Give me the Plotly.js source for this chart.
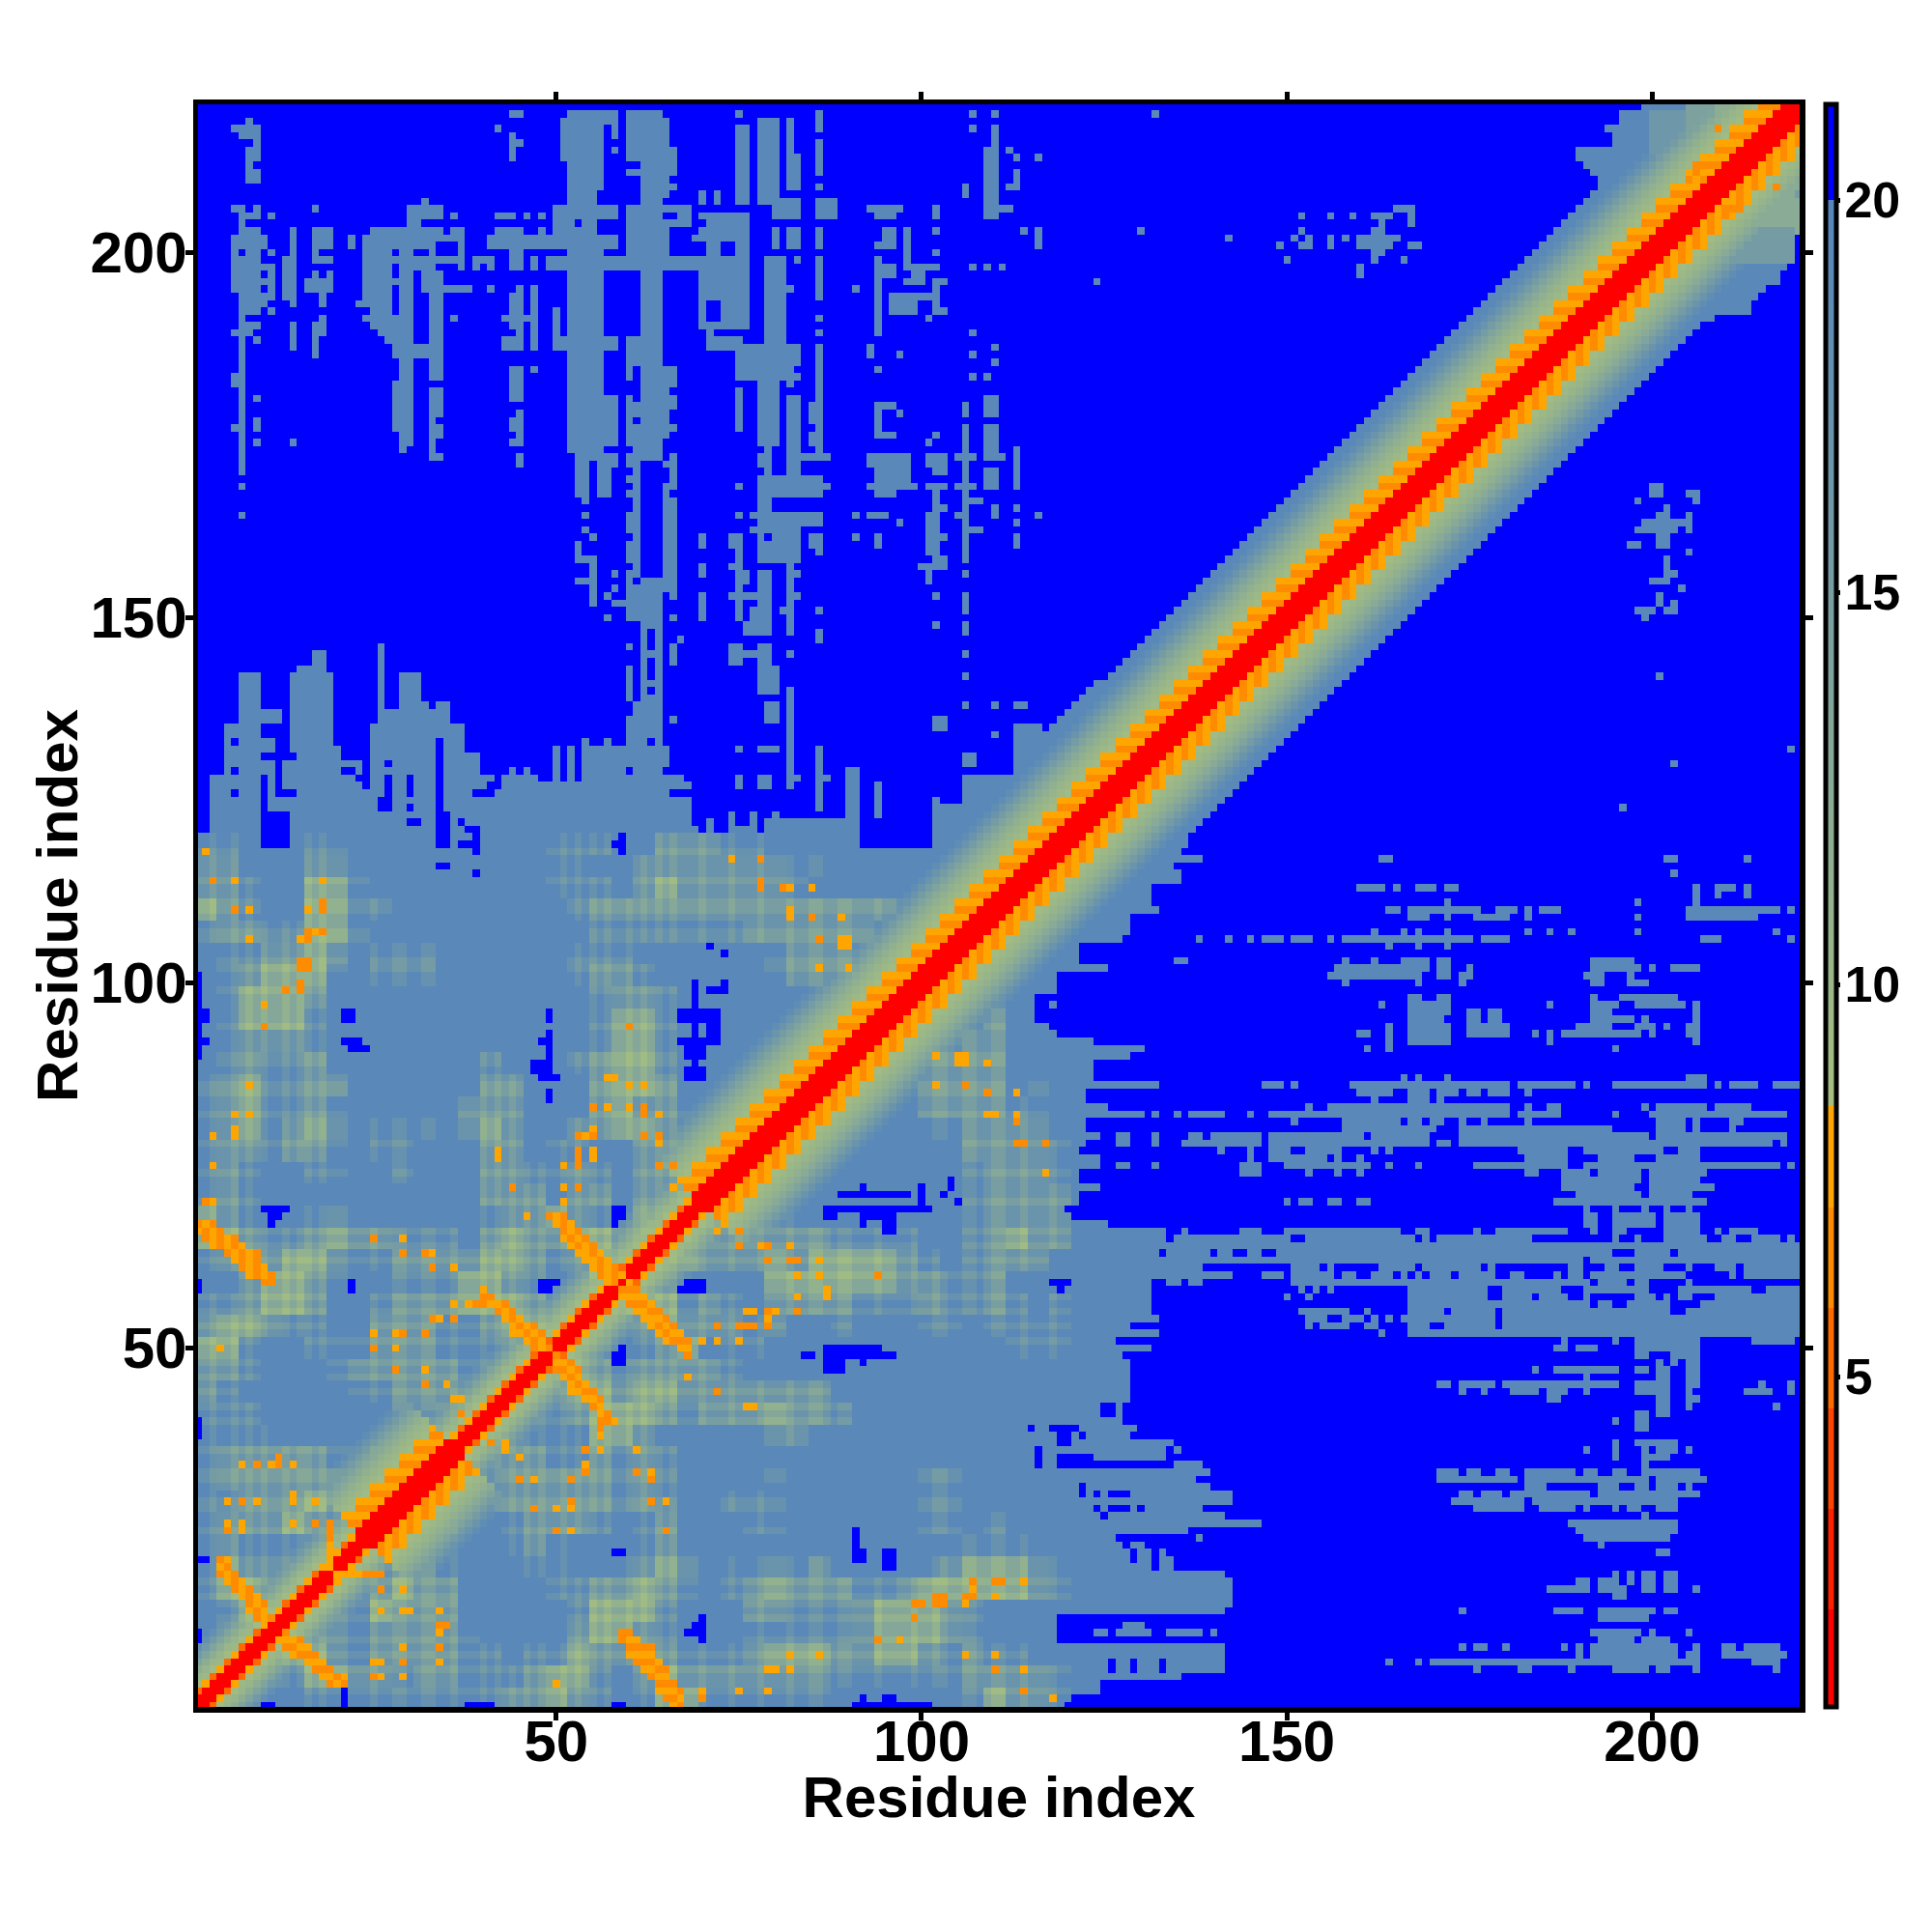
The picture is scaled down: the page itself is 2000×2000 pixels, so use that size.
<!DOCTYPE html>
<html><head><meta charset="utf-8">
<script src="https://cdn.plot.ly/plotly-3.0.1.min.js"></script>
<style>html,body{margin:0;padding:0;background:#fff}#chart{width:2000px;height:2000px}</style>
</head><body><div id="chart"></div>
<script>
// Residue-residue distance map.
const tickValues=[50,100,150,200];
const colourTicks=[5,10,15,20];
const BLUE=21, STEEL=19.5;
const gridLevels=[19.5,17.5,15,11.3,9.8];

// Right-most cell of the dense steel area, for rows 1..120
const rowRight=[119,120,124,124,135,141,141,141,141,118,
118,118,118,141,142,142,142,142,141,134,
134,134,130,126,136,146,141,138,142,142,
139,137,139,138,134,135,134,131,129,127,
127,127,128,128,128,128,128,128,127,131,
126,132,128,132,131,131,131,131,131,129,
129,129,129,129,129,129,125,120,119,121,
121,124,121,121,124,124,121,122,124,122,
122,130,125,122,122,132,123,123,123,128,
130,123,118,117,115,115,118,116,118,118,
118,125,121,121,120,127,128,128,128,132,
131,131,131,135,135,134,138,135,136,136];
// Top-most cell of the dense steel area, for columns 1..125
const colTop=[120,120,128,128,135,135,142,142,142,139,139,139,135,142,143,143,145,145,142,134,133,133,133,132,135,146,137,137,142,142,142,138,137,138,138,135,135,131,131,128,128,127,128,129,128,129,128,127,127,132,127,132,127,133,132,132,133,132,132,133,133,132,133,133,132,129,128,127,121,120,122,120,120,123,121,121,123,120,122,123,122,122,122,122,122,122,122,122,122,122,122,118,118,118,118,118,118,118,118,118,118,124,124,124,124,128,128,128,128,128,128,128,135,135,135,135,134,135,136,137,138,139,140,141,141];

// Khaki texture of the lower-left block: rows of three-cell bins, y=1-3 first, x<=y (mirrored)
const khakiRows=[
"3","23","123","0233","01333","133223","1322223","12111133",
"122232123","1122232123","12222221223","122222112223","1111000000122","11100000011223",
"210000011222223","2210001222221113","33100111222111223","233211002221123332",
"1123320012223332201","00233210011133210133","123233211222233212333","3321123221110232233233",
"32100121000001223210331","12100000000002220220221","12100110010002211210221","12212210110002201100221",
"123123201110232002233210","12311210000022200023221","1231122000000220002332","0121120000000100012331",
"0122210000000000001331","0133310000000000001331","0133320000000000001221",
"0123331011100000012210000012222","0112232011100000011100000012221",
"1221133100000000001111111222222","321003311000000001222222222222221","2210033100000000111023222221",
"2200022000000000110022222221100000000000","1100011000000000111002221100000000000000"
];
// Residues that sit closer than their neighbours: they give the plaid texture
const closeResidues=[3,6,8,10,13,15,16,18,25,28,29,32,33,36,40,42,44,46,48,51,53,55,57,60,62,64,66,70,74,78,82,85,86,89,90,94,99,102,103,106,107,110,111,114,118];
const closeShift=-1, farShift=1;
// Strands of contacts: [y, first x, tones]; mirrored across the diagonal
const toneValues={a:7.7,b:6.5,c:5.3};
const strands=[
[67,1,"bab"],[66,1,"abab"],[65,2,"babab"],[64,3,"ababa"],[63,5,"babab"],[62,6,"abab"],[61,7,"baba"],[60,8,"abab"],[59,10,"bb"],
[58,40,"a"],[57,40,"bb"],[56,38,"abbaab"],[55,42,"bab"],[54,43,"aba"],[53,44,"abab"],[52,44,"aabab"],[51,46,"aba"],[50,47,"bab"],
[68,49,"bab"],[67,50,"aba"],[66,51,"bab"],[65,51,"abab"],[64,52,"abab"],[63,53,"aaba"],[62,54,"aaba"],[61,55,"abab"],[60,56,"baba"],[59,57,"ab"],
[21,4,"ba"],[20,4,"ab"],[19,4,"bab"],[18,5,"aba"],[17,6,"bab"],[16,7,"aba"],[15,8,"bab"],[14,8,"aba"],[13,9,"bab"]
];
// Isolated contacts: [x, y, tone]; mirrored
const contacts=[
[2,118,"a"],[3,114,"b"],[6,114,"a"],[6,110,"b"],[8,110,"a"],[18,114,"a"],[18,110,"b"],[18,111,"b"],[16,110,"a"],[16,106,"b"],[16,107,"b"],[15,106,"a"],[18,107,"b"],[17,107,"a"],[8,106,"a"],[15,102,"b"],[16,102,"b"],[15,103,"b"],[16,103,"b"],[15,99,"b"],[15,100,"b"],[13,99,"b"],[10,97,"a"],[10,94,"b"],[8,86,"a"],[6,82,"a"],[8,82,"a"],[6,79,"a"],[6,80,"a"],[3,79,"a"],[74,117,"a"],[78,117,"b"],[78,113,"b"],[78,114,"b"],[81,113,"b"],[82,113,"a"],[85,113,"a"],[60,94,"b"],[57,87,"a"],[58,87,"a"],[60,86,"a"],[62,86,"a"],[55,83,"b"],[57,83,"a"],[60,83,"a"],[62,82,"b"],[62,83,"b"],[64,82,"a"],[53,79,"b"],[54,79,"a"],[55,79,"b"],[55,80,"a"],[62,79,"b"],[64,79,"b"],[64,78,"a"],[53,77,"b"],[55,77,"a"],[42,77,"a"],[82,110,"a"],[82,109,"a"],[85,109,"b"],[89,109,"a"],[86,106,"b"],[89,105,"a"],[90,105,"a"],[89,106,"a"],[90,106,"a"],[86,102,"a"],[90,102,"a"],[3,75,"a"],[42,76,"a"],[44,72,"b"],[51,75,"a"],[53,75,"b"],[53,76,"b"],[55,76,"a"],[51,72,"a"],[53,72,"b"],[51,70,"a"],[46,68,"a"],[64,75,"b"],[66,75,"b"],[66,72,"a"],[2,70,"b"],[3,70,"a"],[25,65,"b"],[29,65,"a"],[29,63,"b"],[32,63,"b"],[33,63,"a"],[33,61,"b"],[36,61,"a"],[36,56,"a"],[33,54,"b"],[34,54,"a"],[36,54,"b"],[25,52,"a"],[28,52,"a"],[29,52,"b"],[32,52,"b"],[25,50,"b"],[28,50,"a"],[4,50,"a"],[28,47,"b"],[32,47,"a"],[32,45,"b"],[35,45,"a"],[36,43,"a"],[37,43,"a"],[37,41,"b"],[7,34,"a"],[9,34,"b"],[11,34,"a"],[12,34,"b"],[12,35,"b"],[14,34,"a"],[14,29,"a"],[14,30,"a"],[5,29,"a"],[7,29,"b"],[9,29,"a"],[17,29,"a"],[5,26,"a"],[5,25,"b"],[7,25,"a"],[7,26,"a"],[14,26,"a"],[17,26,"b"],[19,24,"b"],[19,25,"b"],[19,26,"b"],[19,20,"a"],[19,21,"a"],[19,22,"a"],[19,23,"a"]
];
// Diagonal band: value by distance from the diagonal, two alternating phases
const helixSpans=[[24,36],[70,220]];
const wideA=[1.5,1.5,1.5,6.4,7.7,6.4,8.2,9.8,10.4,11.5,12.7,14,15.5,17,18.5,19.5,19.5];
const wideB=[1.5,1.5,1.5,7.7,6.4,7.7,9.2,9.8,10.4,11.5,12.7,14,15.5,17,18.5,19.5,19.5];
const narrowA=[1.5,1.5,5.5,9.3,10.3,12,14,16,18];
const narrowB=[1.5,1.5,7.7,9.8,10.6,12,14,16,18];

// Blue cells inside the steel area: [x0,x1,y0,y1]
const blueHoles=[
[10,12,138,139],[10,13,134,135],[12,13,132,133],[10,14,131,131],[12,12,126,130],[10,10,119,128],[10,13,119,123],[13,14,126,126],[6,6,133,133],[6,6,129,129],[6,6,126,126],
[20,23,133,134],[21,23,131,132],[24,24,127,134],[21,22,129,129],[23,23,128,128],[34,34,124,133],[34,35,119,123],[27,27,130,130],[27,27,126,128],[30,30,126,128],[26,27,124,125],[30,30,124,124],[30,31,122,122],[37,37,122,122],[38,39,121,121],[39,39,118,120],[37,38,119,119],[34,35,116,116],[39,39,115,115],[39,41,126,126],[41,42,127,127],
[59,59,118,120],[58,58,119,119],[60,60,129,129],[65,67,129,129],[66,68,126,126],[1,1,90,101],[1,2,95,96],[1,2,92,92],[21,22,95,96],[21,23,92,92],[22,24,91,91],
[49,49,95,96],[49,49,90,93],[48,48,92,92],[47,49,88,89],[48,50,87,87],[49,49,84,85],[69,69,87,100],[67,72,95,96],[71,73,99,99],[73,73,100,100],[71,72,92,95],[67,72,92,92],[68,70,90,91],[68,70,87,88],[71,71,105,105],[73,73,104,104],
[10,13,69,69],[11,12,68,68],[11,11,67,67],[1,1,58,59],[22,22,58,59],[48,50,58,59],[49,50,57,58],[58,59,67,69],[67,70,58,59],[58,59,48,50],[57,57,49,49],[1,1,38,40],[1,2,21,21],[58,59,22,22],[1,1,10,11],[70,70,10,13],[69,69,11,12],[68,68,11,11],[10,11,1,1],[21,21,1,3],[38,41,1,1],[58,59,1,1],
[84,85,49,49],[87,94,49,50],[87,89,47,48],[92,92,48,48],[95,96,49,49],[118,120,59,59],[119,119,58,58],[125,126,41,42],[115,115,39,39],[118,121,39,39],[119,120,37,38],[122,122,38,38],[129,131,38,38],[116,116,34,36],[119,123,34,35],[123,134,34,34],[134,134,35,36],[122,122,30,31],[124,124,30,30],[126,128,30,30],[124,124,28,28],[126,128,28,28],[130,130,28,28],[125,125,27,27],[127,136,24,24],[128,128,23,23],[129,129,21,22],[132,132,20,23],[134,134,22,23],[91,91,21,25],[92,92,21,22],[95,96,20,22],[126,126,6,7],[129,129,6,7],[133,133,6,7],[92,92,2,2],[95,96,2,2],[91,101,1,1],
[121,121,130,131],[113,113,125,126],[117,117,125,126],[131,131,120,121],[126,126,116,117],[126,126,112,113],[116,117,97,98],[89,98,71,71],[92,92,72,72],[100,100,70,72],[104,104,72,73],[103,103,71,71],[105,105,70,70],[87,101,69,69],[87,88,68,68],[92,96,68,68],[92,92,67,67],[95,96,66,67]
];
// Steel cells above the dense area: [x0,x1,y0,y1]
const steelPatches=[
[8,8,218,218],[6,9,217,217],[7,9,216,216],[9,9,215,215],[8,9,213,214],[8,8,212,212],[8,9,210,211],
[6,7,206,206],[9,9,205,206],[7,9,205,205],[11,11,205,205],[7,7,204,204],[7,9,203,203],[6,10,201,202],[6,6,200,200],[8,9,200,200],[11,11,200,200],[6,9,199,199],[6,11,198,198],[6,9,197,197],[11,11,197,197],[6,11,196,196],[6,9,195,195],[11,11,195,195],[7,11,194,194],[7,10,193,193],[7,9,192,192],[11,11,192,192],[7,7,191,191],[7,9,190,190],[6,8,189,189],[7,7,188,188],[9,9,188,188],[7,7,170,188],[6,7,182,183],[9,9,180,180],[9,9,176,177],[6,7,176,176],[9,9,174,174],[14,14,174,174],[7,7,168,168],[7,7,164,164],
[14,14,201,203],[14,14,193,200],[13,13,194,199],[14,14,187,190],[17,19,201,203],[17,17,199,200],[18,19,199,199],[19,19,197,197],[17,17,197,197],[16,19,195,196],[18,18,193,194],[18,18,190,191],[17,18,189,190],[17,17,187,188],[17,17,186,186],[17,17,206,206],[22,22,201,202],
[25,27,203,203],[24,27,194,202],[23,27,193,193],[25,27,192,192],[24,27,191,191],[25,27,190,190],[26,27,189,189],[27,27,188,188],
[28,34,203,203],[36,37,203,203],[28,33,202,202],[34,37,202,202],[28,33,201,201],[37,37,201,201],[29,30,200,200],[33,33,200,200],[37,37,200,200],[27,37,199,199],[29,33,198,198],[37,37,198,198],[30,31,204,206],[32,34,205,206],[32,32,207,207],[36,36,205,205],
[29,30,192,197],[28,29,196,196],[28,30,186,191],[33,34,186,197],[32,32,195,197],[31,32,186,187],[29,30,182,185],[33,34,183,185],[28,30,176,182],[33,34,178,181],[33,33,172,178],[33,34,175,176],[33,34,172,172],[29,30,174,176],[29,29,173,173],
[35,38,195,195],[41,41,195,195],[36,36,191,191],[39,41,199,199],[39,39,198,198],[41,41,198,198],[44,45,219,219],[42,42,217,217],[44,44,213,216],[45,45,215,215],[42,44,205,205],[46,46,205,205],[48,48,205,205],[42,45,203,203],[48,48,203,203],[41,50,201,202],[44,45,198,200],[47,47,198,199],[50,50,198,199],
[45,45,195,195],[44,45,190,194],[43,46,191,191],[45,45,188,190],[43,45,187,188],[47,47,187,195],[50,50,189,192],[50,51,187,188],[47,47,184,184],[44,45,180,184],[45,45,174,178],[44,44,176,177],[44,45,174,174],[45,45,171,172],
[52,58,218,219],[52,56,209,217],[58,58,216,217],[58,58,214,214],[51,51,213,218],[52,55,207,208],[50,58,205,206],[50,52,204,204],[54,55,204,204],[50,58,203,203],[50,58,201,202],[52,56,200,200],[49,77,198,199],
[52,56,173,197],[57,58,174,180],[57,58,187,188],[53,54,167,171],[56,57,167,171],[56,58,171,172],[53,58,172,172],[54,54,166,166],[54,54,164,164],[54,54,162,162],[55,55,161,161],[53,53,158,160],[53,55,158,158],[55,55,152,157],[53,55,155,155],[58,58,156,156],[58,58,154,154],[57,57,153,153],[58,59,152,152],[57,57,150,150],[60,60,146,146],[60,60,142,142],
[60,64,213,219],[65,65,214,218],[60,66,211,211],[65,66,212,214],[62,65,208,210],[66,66,209,209],[62,64,172,219],[62,66,179,180],[65,65,154,184],[66,66,182,184],[66,66,176,176],[66,66,171,172],[66,66,168,170],[66,66,153,166],[66,66,150,150],[60,61,187,188],[60,61,185,186],[60,60,183,185],[60,60,179,180],[60,60,174,178],[60,60,171,172],[60,60,169,169],[60,60,167,167],[60,60,162,164],[60,60,158,160],[60,61,150,156],[61,61,173,179],[61,61,165,172],[61,61,157,164],[60,68,204,206],[60,68,203,203],[60,65,200,202],[68,70,202,202],[70,70,207,208],[72,72,207,208],[70,76,203,205],[71,76,200,202],[70,76,190,197],[71,71,187,189],[72,75,187,188],
[75,75,219,219],[75,76,217,217],[75,76,207,216],[78,80,207,218],[79,81,185,199],[78,80,174,184],[75,81,183,187],[75,75,176,181],[80,83,205,207],
[82,82,213,218],[82,83,209,213],[82,83,201,203],[80,80,201,203],[86,86,217,219],[86,86,211,215],[86,86,209,209],[86,88,205,207],[86,86,201,203],[86,86,194,199],[86,86,191,191],[86,86,189,189],[86,86,181,187],[82,83,185,187],[82,82,182,185],[81,83,183,183],[80,80,182,194],[83,83,199,199],[82,82,195,195],
[82,83,172,180],[86,86,172,180],[85,86,177,179],[85,86,174,175],[79,79,169,174],[78,79,171,172],[82,87,172,172],[82,83,170,171],[78,87,168,168],[78,86,167,167],[78,86,169,169],[78,79,165,167],[78,83,158,164],[84,86,163,164],[85,86,160,161],[86,86,159,159],[78,79,148,156],[77,77,148,151],[76,76,148,149],[82,82,148,157],[83,83,156,156],[83,83,153,153],[81,81,151,151],[86,86,151,151],[86,86,147,148],[82,82,145,145],
[74,75,160,161],[75,75,150,160],[75,76,155,156],[74,78,153,153],[74,74,157,157],[74,75,144,146],[75,79,145,145],[78,79,144,146],[78,78,142,143],[70,70,160,161],[70,70,156,157],[70,70,151,153],[70,70,150,150],[75,75,168,168],[75,75,164,164],[77,77,164,164],[77,77,162,162],
[82,82,127,140],[86,86,124,132],[83,83,128,128],[87,87,128,128],[90,91,123,129],[94,94,123,127],[102,102,122,125],[102,103,135,136],[106,106,138,138],[110,110,138,138],[113,114,138,138],[110,110,134,134],[106,107,130,131],
[93,97,206,206],[94,96,205,205],[102,102,205,206],[95,96,201,203],[98,98,199,203],[102,102,203,203],[94,94,201,201],[102,102,200,200],[94,94,189,199],[95,96,197,198],[98,102,198,198],[99,100,196,197],[98,100,196,196],[102,103,196,196],[102,102,192,196],[96,99,192,194],[100,101,194,194],[102,103,192,192],[101,101,191,191],[91,91,195,195],
[107,107,219,219],[110,110,219,219],[107,107,217,217],[110,110,215,217],[109,110,205,214],[112,112,214,214],[113,113,213,213],[113,113,209,211],[112,112,209,209],[116,116,213,213],[106,106,208,209],[111,111,206,206],[112,112,206,206],[114,114,203,203],[116,116,201,203],[130,130,203,203],[107,107,198,198],[109,109,198,198],[111,111,198,198],[124,124,196,196],[107,107,189,189],[107,107,186,186],[110,110,187,187],[110,110,185,185],[107,107,183,183],[109,109,183,183],[93,93,186,187],[97,97,186,186],[94,94,184,184],
[94,96,179,179],[94,94,175,179],[94,96,175,175],[97,97,178,178],[102,102,175,175],[101,101,174,174],[93,98,171,172],[94,96,167,170],[93,94,168,168],[97,98,168,170],[98,99,168,168],[101,103,171,172],[102,103,170,170],[101,103,168,168],[102,102,165,168],[102,103,165,165],[101,102,159,164],[102,103,161,161],[102,103,158,158],[100,103,157,157],[101,101,155,156],
[106,106,158,176],[105,107,172,172],[105,107,168,168],[107,108,166,166],[105,106,164,164],[107,108,162,162],[106,106,178,179],[109,110,178,180],[109,110,173,176],[109,111,172,172],[109,110,168,170],[110,110,164,165],[113,113,171,173],[113,113,168,170],[113,113,165,165],[113,113,163,163],[113,113,160,161],[116,116,164,164],[93,95,164,164],[91,91,164,164],[97,97,163,163],[91,91,161,161],[94,94,160,161],
[102,102,153,153],[102,102,149,149],[106,106,156,156],[106,106,151,153],[106,106,148,149],[106,106,145,145],[106,106,142,142],[132,132,219,219],[142,142,202,202],
[62,64,132,155],[60,60,139,143],[60,61,132,136],[61,61,133,138],[66,66,144,146],[67,67,147,147],[66,66,136,136],[75,75,132,132],[78,80,132,132],[75,75,127,128],[78,79,127,128],[78,80,140,143],[79,80,136,138]
];
// Blue stripes cut from the main columns
const blueCuts=[[63,63,146,148],[63,63,142,144],[63,63,140,140],[63,63,133,133],[60,61,209,210],[65,66,205,205],[53,53,204,204],[56,58,203,204],[31,31,188,193],[71,72,191,193],[70,70,204,204],[66,68,202,203],[73,74,200,201],[77,77,197,199],[65,65,172,174],[65,65,169,170],[79,79,161,161],[79,79,157,157],[84,84,162,162],[61,61,177,177],[61,61,155,155],[65,65,151,153]];
// Horizontal runs of steel cells on the right: [row, a,b, a,b, ...]
const rightRows=[
[206,165,167],[205,152,152,156,156,159,159,162,164,167,167],[204,163,163,167,167],[203,152,152,162,163],[202,151,151,153,153,156,156,158,158,160,165],[201,149,149,152,153,156,156,160,164,167,168],[200,162,163],[199,150,150,162,162,166,166],[198,160,160],[197,160,160],
[168,200,201],[167,200,201,205,206],[166,198,198,206,206],[165,202,202],[164,201,202,205,205],[163,199,205],[162,198,203,205,205],[161,201,202],[160,197,198,201,202],[159,205,205],[158,202,202],[157,202,202],
[156,202,203],[155,200,202],[154,204,204],[153,201,201],[152,201,201,203,203],[151,198,200,202,203],[150,199,199],[142,201,201],[132,219,219],[130,203,203],[124,196,196],
[117,163,164,202,203,213,213],[115,203,203],[113,160,161,162,163,165,165,168,170,172,173,206,206,209,211,213,213],[112,206,206,209,209,213,213],[111,172,172,198,198,206,206],[110,164,165,167,176,179,181,183,183,185,185,186,187,205,217,219,219],[109,167,169,172,172,176,178,179,180,183,183,198,198,205,207,208,214],[107,162,162,166,166,168,168,172,172,183,183,186,186,189,189,198,198,217,217],[106,138,138,142,142,145,145,147,149,151,153,156,156,158,175,177,180,207,209,219,219],[105,164,164,168,168,172,172],
[103,135,136,158,158,162,162,166,167,168,169,171,172,192,197],[102,157,160,161,164,165,168,169,169,171,172,175,175,192,197,198,198,200,200,203,206],[101,156,167,168,168,171,172,174,175,191,193,197,197],[100,158,158,168,168,174,174,192,193,197,199],
[98,167,168,171,172,192,192,196,203],[97,163,163,167,172,186,186,192,195,198,204,206,206],[96,167,172,175,176,178,179,192,194,206,206],[95,167,171,175,176,178,179,192,197,199,199,206,206],[94,164,164,167,172,175,180,190,194,198,200,202,202,205,206],[93,160,161,164,164,167,172,175,180,184,184,186,186,188,198,200,200,205,206],[92,164,164,167,172,186,186,206,206],[91,161,161,164,164,195,195],
[87,166,166,168,168,172,172,205,207],[86,147,149,151,151,159,180,182,187,188,189,191,191,195,204,205,207,209,209,211,214,217,220],[85,160,164,167,169,171,173,175,176,178,180,183,183],[84,162,162,167,169,171,171],[83,153,153,156,157,158,180,183,183,186,187,199,199,201,207,209,213],[82,132,132,135,135,137,141,145,145,148,180,182,187,195,195,200,218],[81,151,151,158,165,167,168,170,171,174,174,177,177,183,183,201,204,206,206,211,212],[80,158,165,166,168,169,170,174,194,201,204,206,206,211,211],[79,127,128,132,132,137,138,140,146,148,157,158,160,162,169,174,199,201,218],[78,127,128,132,132,136,146,148,169,171,172,174,216,218,218],[77,141,141,145,145,148,150,153,157,162,162,164,164,182,188,191,201,204,206],[76,145,145,148,155,157,157,160,160,183,188,193,197,201,206],[75,127,128,132,132,144,146,150,161,164,164,168,168,176,188,191,217,219,219],[74,144,146,153,153,157,157,160,160,183,184,188,191,193,198,200,207],[73,188,190,191,198,200,206],[72,188,197,200,208],[71,190,198,200,205],[70,150,150,152,153,156,157,160,161,187,200,201,207],
[69,191,191,195,195,199,199,202,202,205,205],[68,191,192,195,197,198,200,202,206],[67,191,192,195,197,198,200,202,206],
[66,130,133,136,136,144,146,150,165,168,169,176,176,179,183,184,188,192,192,195,196,202,206,209,209,211,214],[65,130,133,135,150,153,166,167,167,169,169,171,173,174,183,195,195,198,198,202,207,210,211,214,217,219,219],[64,129,220],[63,129,132,134,139,141,142,145,146,149,194,198,202,204,220],[62,129,190,192,220],[61,129,138,151,154,156,156,163,167,169,176,178,178,189,190,194,195,198,201,205,205,209,211,213,220],[60,129,142,147,149,151,156,158,159,162,164,166,166,168,168,170,172,174,178,181,182,187,187,189,190,192,204,211,211,213,220],[59,134,135,137,138,151,191,193,196,198,199,205,205],[58,152,152,154,154,156,156,167,177,180,187,191,199,204,213,216,220],[57,150,150,153,153,167,177,180,183,185,188,191,191,198,200,202,202,204,205,209,220],[56,167,191,193,194,197,202,207,220],[55,152,158,161,161,167,171,173,178,180,202,205,220],[54,153,155,158,160,162,162,164,164,166,178,180,220],[53,153,153,155,158,161,162,167,169,172,178,180,220],[52,163,163,167,203,204,220],[51,188,188,195,195,198,206,214,219],[50,187,188,190,192,198,206],[49,198,199,203,206],[48,201,201,203,203,205,206],[47,184,184,187,192,193,195,198,199,201,202,205,206],[46,191,191,201,202,205,206],[45,171,172,174,178,180,195,198,202,205,206,215,215,219,219],[44,174,174,177,177,181,184,186,188,191,191,198,202,205,205,213,216,219,219],[43,186,187,201,202,205,206],[42,201,202,205,205,217,217],[41,198,199,201,202],[40,195,195,198,199],[39,198,199],[37,195,195,198,203],[36,191,191,195,195,199,199,201,203,205,205],[35,195,195,199,202],[34,199,199],[33,171,173,175,176,179,180,183,189,191,192,195,196,199,206],[32,171,181,183,199,201,207],[31,183,185,193,195,198,199,201,203,205,205],[30,174,175,177,179,181,191,193,206],[29,173,182,184,203],[28,176,182,185,189,191,191,195,195,197,198,201,203],[27,199,199],[26,189,203],[25,190,203],[24,138,138,191,191,192,202],[23,193,193],[22,201,202],[19,195,195,197,197,199,200,202,203],[18,190,191,193,195,197,197,199,200,202,203],[17,186,186,187,191,193,196,199,200,202,203,206,206],[16,195,196],[14,174,174,187,190,193,200,202,203],[13,193,199],[12,128,130],[11,124,125,127,131,134,135,136,138,140,140,192,192,193,198,200,200,205,205],[10,193,195,196,197,199,202],[9,174,174,176,177,180,180,188,188,190,190,192,203,206,206,210,211,213,217],[8,190,190,192,203,205,206,210,214,215,218],[7,164,164,168,168,170,206,214,217],[6,176,176,182,183,189,189,195,199,201,202,206,206,217,217]
];
// Upper right corner: steel rows [row,x0,x1] and shaded blocks [x0,x1,y0,y1,value]
const cornerRows=[[220,199,206],[220,208,220],[219,196,220],[218,196,220],[217,194,220],[216,195,220],[215,195,220],[214,190,220],[213,190,220],[212,191,220],[211,192,220],[210,193,220],[209,193,220],[208,194,219],[207,195,220],[206,196,220],[205,197,219],[204,198,219],[203,198,219],[202,198,219],[201,199,218],[200,200,218],[199,199,218],[198,198,218],[197,197,217],[196,196,217],[195,195,215],[194,194,214],[193,193,213],[192,192,213],[191,191,208]];
const cornerBlocks=[[200,205,214,219,16.5],[205,209,215,220,14.5],[209,215,211,220,12],[207,212,209,215,11.5],[210,220,203,209,12.5],[212,219,199,203,15.5]];
const cornerSpots=[[209,217,6],[209,214,6],[206,212,6.5],[206,211,6.5],[206,210,7.4],[214,209,6.3],[217,209,6.3],[211,206,6],[212,206,6],[210,207,7.4]];
const cornerBlue=[[202,214],[202,212],[212,202],[214,202],[220,208]];

const N=220;
const residues=Array.from({length:N},(_,i)=>i+1);
const z=residues.map(()=>residues.map(()=>BLUE));
const setCell=(x,y,v)=>{if(x>=1&&x<=N&&y>=1&&y<=N)z[y-1][x-1]=v;};
const fill=(x0,x1,y0,y1,v)=>{for(let y=y0;y<=y1;y++)for(let x=x0;x<=x1;x++)setCell(x,y,v);};
const closeSet=new Set(closeResidues);
const shiftOf=r=>closeSet.has(r)?closeShift:farShift;

// dense steel area with khaki texture
for(let y=1;y<=N;y++)for(let x=1;x<=125;x++){
  if(y>colTop[x-1])continue;
  if(y<=120&&x>rowRight[y-1])continue;
  let v=STEEL; const a=Math.max(x,y),b=Math.min(x,y);
  if(a<=120){
    const c=(khakiRows[Math.floor((a-1)/3)]||"").charAt(Math.floor((b-1)/3));
    if(c&&c!=="0")v=Math.max(8.7,Math.min(STEEL,gridLevels[+c]+shiftOf(a)+shiftOf(b)));
  }
  setCell(x,y,v);
}
for(let y=1;y<=120;y++)for(let x=126;x<=rowRight[y-1];x++)setCell(x,y,STEEL);
steelPatches.forEach(p=>fill(p[0],p[1],p[2],p[3],STEEL));
blueCuts.forEach(p=>fill(p[0],p[1],p[2],p[3],BLUE));
rightRows.forEach(r=>{for(let k=1;k<r.length;k+=2)fill(r[k],r[k+1],r[0],r[0],STEEL);});
blueHoles.forEach(p=>fill(p[0],p[1],p[2],p[3],BLUE));
cornerRows.forEach(r=>fill(r[1],r[2],r[0],r[0],STEEL));
cornerBlocks.forEach(b=>fill(b[0],b[1],b[2],b[3],b[4]));
cornerBlue.forEach(c=>setCell(c[0],c[1],BLUE));
// diagonal band
for(let y=1;y<=N;y++)for(let x=1;x<=N;x++){
  const d=Math.abs(x-y),m=Math.min(x,y),c=(x+y)/2;
  const wide=helixSpans.some(s=>c>=s[0]&&c<=s[1]);
  const t=wide?(m%2?wideA:wideB):(m%2?narrowA:narrowB);
  if(d<t.length&&t[d]<z[y-1][x-1])z[y-1][x-1]=t[d];
}
// contacts
strands.forEach(s=>{[...s[2]].forEach((t,i)=>{setCell(s[1]+i,s[0],toneValues[t]);setCell(s[0],s[1]+i,toneValues[t]);});});
contacts.forEach(c=>{setCell(c[0],c[1],toneValues[c[2]]);setCell(c[1],c[0],toneValues[c[2]]);});
cornerSpots.forEach(c=>setCell(c[0],c[1],c[2]));

const zMin=0.79,zMax=21.22;
const at=v=>(v-zMin)/(zMax-zMin);
const bands=[[0.79,'#ff0000'],[2.03,'#ff2000'],[3.31,'#ff4500'],[4.6,'#ff6a00'],[5.88,'#ff8c00'],[7.16,'#ffa500'],[8.45,null]];
const colorscale=[];
for(let i=0;i<6;i++){colorscale.push([at(bands[i][0]),bands[i][1]]);colorscale.push([at(bands[i+1][0]),bands[i][1]]);}
colorscale.push([at(8.45),'#a6bf80']);colorscale.push([at(20),'#5585bc']);colorscale.push([at(20),'#0000ff']);colorscale.push([1,'#0000ff']);

const boldFont=s=>({family:'"Liberation Sans",Arial,sans-serif',size:s,color:'#000',weight:'bold'});
const axis=(range,standoff,labelOff)=>({
  range:range,tickmode:'array',tickvals:tickValues,ticktext:tickValues.map(String),
  ticks:'outside',ticklen:8,tickwidth:5,tickcolor:'#000',showline:true,linecolor:'#000',linewidth:5.5,mirror:'ticks',
  showgrid:false,zeroline:false,tickfont:boldFont(60),tickangle:0,automargin:false,ticklabelstandoff:labelOff,
  title:{text:'Residue index',font:boldFont(60),standoff:standoff}
});
const layout={width:2000,height:2000,margin:{l:204.5,r:137,t:108,b:233},paper_bgcolor:'#fff',plot_bgcolor:'#fff',
  xaxis:axis([0.96,220.2],0,-30),yaxis:axis([0.84,220.3],0,-14),showlegend:false};
const trace={type:'heatmap',x:residues,y:residues,z:z,zmin:zMin,zmax:zMax,colorscale:colorscale,zsmooth:false,hoverongaps:false,
  colorbar:{x:1.016,xanchor:'left',xpad:0,ypad:0,y:0.5,yanchor:'middle',len:1,thickness:11,outlinewidth:5,outlinecolor:'#000',borderwidth:0,
    tickmode:'array',tickvals:colourTicks,ticktext:colourTicks.map(String),ticks:'outside',ticklen:2,tickwidth:5,tickcolor:'#000',tickfont:boldFont(52)}};
Plotly.newPlot('chart',[trace],layout,{displayModeBar:false,staticPlot:true}).then(()=>{
  // fine placement of the axis titles and colour bar labels
  const nudge=(el,dx,dy)=>{const t=el.getAttribute('transform')||'';el.setAttribute('transform','translate('+dx+','+dy+') '+t);};
  const xt=document.querySelector('.xtitle'), yt=document.querySelector('.ytitle');
  if(xt)nudge(xt,0,-9); if(yt)nudge(yt,5,0);
  document.querySelectorAll('.colorbar text').forEach(t=>nudge(t,-6,0));
});
</script></body></html>
